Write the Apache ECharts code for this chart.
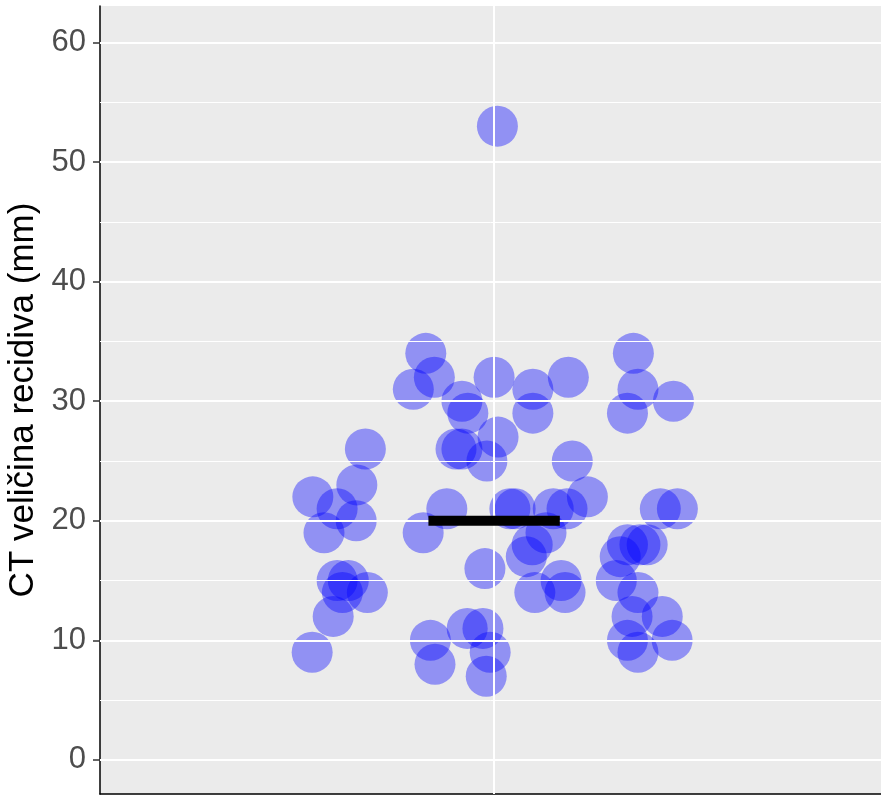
<!DOCTYPE html>
<html>
<head>
<meta charset="utf-8">
<script src="https://cdn.jsdelivr.net/npm/echarts@6/dist/echarts.min.js"></script>
<style>
html,body{margin:0;padding:0;background:#fff;}
#chart{width:881px;height:797px;}
</style>
</head>
<body>
<div id="chart"></div>
<script>
// ---- data ----
const yTicks = [0, 10, 20, 30, 40, 50, 60];
const yMinorTicks = [5, 15, 25, 35, 45, 55];
const yTitle = 'CT veličina recidiva (mm)';
// measured values (mm)
const sizes = [
  53,
  34, 34,
  32, 32, 32,
  31, 31, 31,
  30, 30,
  29, 29, 29,
  27,
  26, 26, 26,
  25, 25,
  23,
  22, 22,
  21, 21, 21, 21, 21, 21, 21, 21,
  20,
  19, 19, 19,
  18, 18, 18, 18,
  17, 17,
  16,
  15, 15, 15, 15,
  14, 14, 14, 14, 14,
  12, 12, 12,
  11, 11,
  10, 10, 10,
  9, 9, 9,
  8,
  7
];
// horizontal jitter offsets (category widths) of each point
const jitter = [
  0.005,
  -0.104, 0.212,
  -0.091, 0.000, 0.113,
  -0.123, 0.059, 0.219,
  -0.049, 0.273,
  -0.040, 0.059, 0.203,
  0.006,
  -0.196, -0.058, -0.049,
  -0.011, 0.119,
  -0.209,
  -0.276, 0.142,
  -0.239, -0.072, 0.024, 0.032, 0.090, 0.111, 0.253, 0.279,
  -0.210,
  -0.259, -0.108, 0.079,
  0.058, 0.203, 0.222, 0.233,
  0.049, 0.192,
  -0.014,
  -0.239, -0.222, 0.102, 0.186,
  -0.231, -0.193, 0.062, 0.108, 0.219,
  -0.245, 0.210, 0.256,
  -0.041, -0.017,
  -0.097, 0.203, 0.271,
  -0.277, -0.006, 0.219,
  -0.090,
  -0.012
];
const medianValue = [20];
// -------------------------------------

const crossbarHalf = 0.1;
const points = sizes.map((v, i) => [jitter[i], v]);
const FONT = '"Liberation Sans", Arial, sans-serif';

const chart = echarts.init(document.getElementById('chart'), null, {renderer: 'canvas'});

const gridLines = []
  .concat(yMinorTicks.map(v => ({yAxis: v, lineStyle: {color: '#ffffff', width: 1, type: 'solid'}})))
  .concat(yTicks.map(v => ({yAxis: v, lineStyle: {color: '#ffffff', width: 2, type: 'solid'}})))
  .concat([{xAxis: 0, lineStyle: {color: '#ffffff', width: 2, type: 'solid'}}]);

chart.setOption({
  animation: false,
  backgroundColor: '#ffffff',
  grid: {
    left: 100, right: 0, top: 6, bottom: 3,
    show: true, backgroundColor: '#EBEBEB', borderWidth: 0,
    containLabel: false,
    outerBoundsMode: 'none'
  },
  xAxis: {
    type: 'value',
    min: -0.6, max: 0.589,
    axisLine: {show: true, onZero: false, lineStyle: {color: '#000000', width: 1.5}},
    axisTick: {show: false},
    axisLabel: {show: false},
    splitLine: {show: false}
  },
  yAxis: {
    type: 'value',
    min: -2.85, max: 63.05,
    name: yTitle,
    nameLocation: 'middle',
    nameGap: 58,
    nameRotate: 90,
    nameTextStyle: {color: '#000000', fontSize: 35, fontFamily: FONT},
    axisLine: {show: true, onZero: false, lineStyle: {color: '#000000', width: 1.5}},
    axisTick: {show: true, length: 7, customValues: yTicks, lineStyle: {color: '#333333', width: 1.5}},
    axisLabel: {show: true, customValues: yTicks, margin: 14, color: '#4D4D4D', fontSize: 31, fontFamily: FONT},
    splitLine: {show: false}
  },
  series: [
    {
      type: 'scatter',
      data: [],
      z: 1,
      silent: true,
      markLine: {
        silent: true,
        symbol: ['none', 'none'],
        label: {show: false},
        emphasis: {disabled: true},
        data: gridLines
      }
    },
    {
      type: 'scatter',
      data: points,
      z: 3,
      symbol: 'circle',
      symbolSize: 41,
      silent: true,
      itemStyle: {color: 'rgba(0,0,255,0.48)', borderWidth: 0}
    },
    {
      type: 'line',
      data: [[-crossbarHalf, medianValue[0]], [crossbarHalf, medianValue[0]]],
      z: 5,
      silent: true,
      showSymbol: false,
      symbol: 'none',
      lineStyle: {color: '#000000', width: 10, cap: 'butt'}
    }
  ]
});
</script>
</body>
</html>
